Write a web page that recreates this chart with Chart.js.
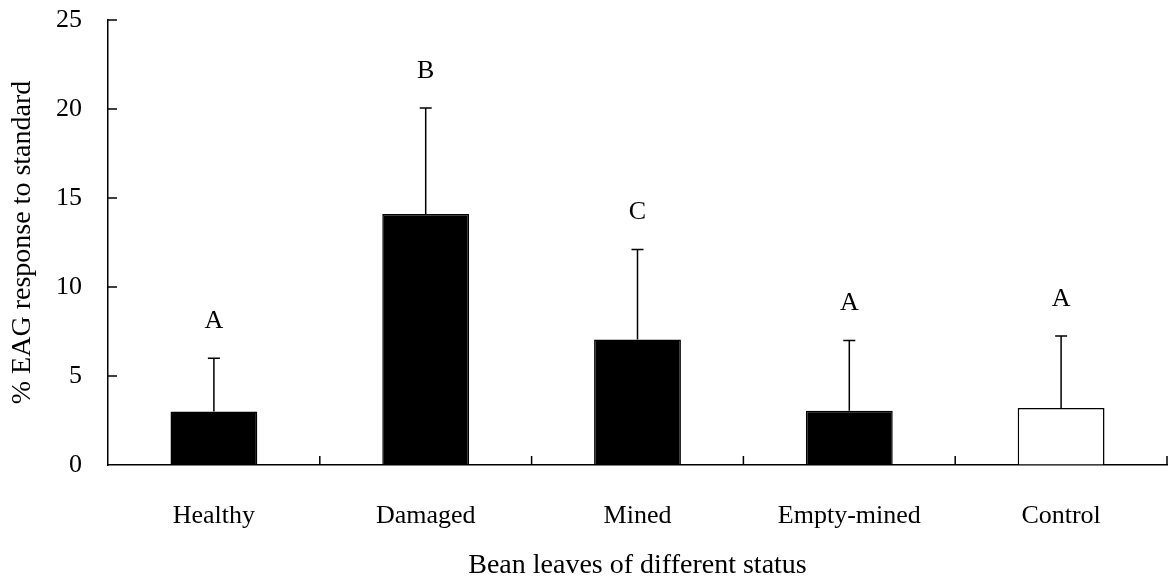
<!DOCTYPE html>
<html>
<head>
<meta charset="utf-8">
<script src="https://cdn.jsdelivr.net/npm/chart.js@4/dist/chart.umd.min.js"></script>
<style>
  html, body { margin: 0; padding: 0; background: #fff; }
  #wrap { width: 1168px; height: 578px; }
</style>
</head>
<body>
<div id="wrap"><canvas id="c" width="1168" height="578"></canvas></div>
<script>
// data
const categories = ['Healthy', 'Damaged', 'Mined', 'Empty-mined', 'Control'];
const means = [3.0, 14.1, 7.05, 3.05, 3.2];
const errTop = [6.0, 20.05, 12.1, 7.0, 7.25];   // mean + SE
const letters = ['A', 'B', 'C', 'A', 'A'];
const fills = ['#000', '#000', '#000', '#000', '#fff'];
const yTicks = [0, 5, 10, 15, 20, 25];

const FONT = "'Liberation Serif','Times New Roman',serif";

// error bars, significance letters and inward tick marks
const extras = {
    id: 'extras',
    afterDatasetsDraw(chart) {
        const { ctx, chartArea, scales: { x, y } } = chart;
        const meta = chart.getDatasetMeta(0);
        ctx.save();
        ctx.strokeStyle = '#000';
        ctx.fillStyle = '#000';
        ctx.lineWidth = 1.5;
        ctx.font = '26px ' + FONT;
        ctx.textAlign = 'center';
        ctx.textBaseline = 'middle';
        meta.data.forEach((bar, i) => {
            const top = y.getPixelForValue(errTop[i]);
            ctx.beginPath();
            ctx.moveTo(bar.x, bar.y);
            ctx.lineTo(bar.x, top);
            ctx.moveTo(bar.x - 6, top);
            ctx.lineTo(bar.x + 6, top);
            ctx.stroke();
            ctx.fillText(letters[i], bar.x, top - 37);
        });
        ctx.beginPath();
        yTicks.slice(1).forEach(v => {
            const py = y.getPixelForValue(v);
            ctx.moveTo(chartArea.left, py);
            ctx.lineTo(chartArea.left + 9, py);
        });
        for (let i = 1; i <= categories.length; i++) {
            const px = x.getPixelForValue(i - 0.5);
            ctx.moveTo(px, chartArea.bottom);
            ctx.lineTo(px, chartArea.bottom - 9);
        }
        ctx.stroke();
        ctx.restore();
    },
};

new Chart(document.getElementById('c'), {
    type: 'bar',
    data: {
        labels: categories,
        datasets: [{
            data: means,
            backgroundColor: fills,
            borderColor: '#000',
            borderWidth: 1.5,
            categoryPercentage: 1,
            barPercentage: 0.41,
        }],
    },
    options: {
        responsive: false,
        devicePixelRatio: 1,
        animation: false,
        layout: { padding: { top: 20, right: 1, left: 0, bottom: 0 } },
        plugins: { legend: { display: false }, tooltip: { enabled: false } },
        scales: {
            x: {
                grid: { display: true, drawOnChartArea: false, drawTicks: false },
                border: { display: true, color: '#000', width: 1.5 },
                ticks: { color: '#000', font: { family: FONT, size: 26 }, padding: 36 },
                title: {
                    display: true, text: 'Bean leaves of different status', color: '#000',
                    font: { family: FONT, size: 28, lineHeight: 0.9 }, padding: { top: 0, bottom: 0 },
                },
                afterFit: s => { s.height = 113; },
            },
            y: {
                min: 0, max: 25,
                grid: { display: true, drawOnChartArea: false, drawTicks: false },
                border: { display: true, color: '#000', width: 1.5 },
                ticks: { color: '#000', stepSize: 5, font: { family: FONT, size: 26 }, padding: 26 },
                title: {
                    display: true, text: '% EAG response to standard', color: '#000',
                    font: { family: FONT, size: 28 }, padding: { top: 6, bottom: 0 },
                },
                afterFit: s => { s.width = 108; s.paddingTop = 0; s.paddingBottom = 0; },
            },
        },
    },
    plugins: [extras],
});
</script>
</body>
</html>
